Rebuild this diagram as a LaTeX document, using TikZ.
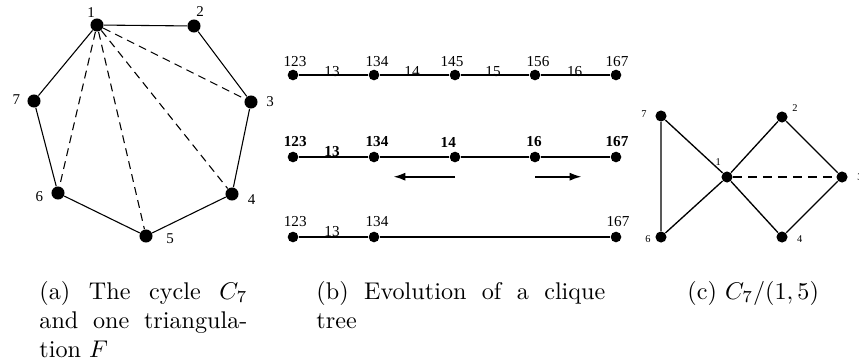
\documentclass[tikz,border=0pt]{standalone}
\usepackage{fontspec}
\newfontfamily\timesf{Liberation Serif}
\usetikzlibrary{arrows.meta}
\begin{document}
\begin{tikzpicture}[x=0.414pt,y=-0.414pt,
  dotA/.style={circle,fill=black,inner sep=0pt,minimum size=5.4pt},
  dotB/.style={circle,fill=black,inner sep=0pt,minimum size=4.4pt},
  dotC/.style={circle,fill=black,inner sep=0pt,minimum size=4.6pt},
  labA/.style={inner sep=0pt,font=\timesf\fontsize{6.2pt}{7pt}\selectfont},
  labB/.style={inner sep=0pt,font=\timesf\fontsize{6.3pt}{7pt}\selectfont},
  labBb/.style={inner sep=0pt,font=\timesf\bfseries\fontsize{6.3pt}{7pt}\selectfont},
  labC/.style={inner sep=0pt,font=\timesf\fontsize{4.3pt}{5pt}\selectfont},
  edgeA/.style={line width=0.45pt},
  diagA/.style={line width=0.45pt,dash pattern=on 3.3pt off 2.2pt},
  edgeB/.style={line width=0.7pt},
  edgeBb/.style={line width=1.1pt},
  arrowB/.style={line width=0.85pt,-{Latex[length=5pt,width=3.4pt]}},
  edgeC/.style={line width=0.55pt},
  diagC/.style={line width=1.1pt,dash pattern=on 3.6pt off 2.6pt},
  capt/.style={inner sep=0pt,anchor=base west,font=\fontsize{10pt}{12pt}\selectfont}
]
\useasboundingbox (0,0) rectangle (859,362);

% ---------- (a) ----------
\node[dotA] (a1) at (97,25) {};
\node[dotA] (a2) at (194,26) {};
\node[dotA] (a3) at (251,102) {};
\node[dotA] (a4) at (232,194) {};
\node[dotA] (a5) at (146,236) {};
\node[dotA] (a6) at (58,193) {};
\node[dotA] (a7) at (34,101) {};
\node[labA] (la1) at (91,13) {1};
\node[labA] (la2) at (200,11.7) {2};
\node[labA] (la3) at (270,102) {3};
\node[labA] (la4) at (251.7,199.5) {4};
\node[labA] (la5) at (170,239) {5};
\node[labA] (la6) at (39.3,197) {6};
\node[labA] (la7) at (16.3,99.5) {7};
\draw[edgeA] (a1) -- (a2) -- (a3) -- (a4) -- (a5) -- (a6) -- (a7) -- (a1);
\draw[diagA] (a1) -- (a3);
\draw[diagA] (a1) -- (a4);
\draw[diagA] (a1) -- (a5);
\draw[diagA] (a1) -- (a6);

% ---------- (b) row 1 ----------
\node[dotB] (p1) at (293,75) {};
\node[dotB] (p2) at (374,75) {};
\node[dotB] (p3) at (455,75) {};
\node[dotB] (p4) at (535,75) {};
\node[dotB] (p5) at (616,75) {};
\draw[edgeB] (p1) -- (p2) -- (p3) -- (p4) -- (p5);
\node[labB] (lp1) at (295,62) {123};
\node[labB] (lp2) at (377,62) {134};
\node[labB] (lp3) at (452,62) {145};
\node[labB] (lp4) at (538,62) {156};
\node[labB] (lp5) at (617,62) {167};
\node[labB,anchor=base] (ep1) at (332,76) {13};
\node[labB,anchor=base] (ep2) at (412,76) {14};
\node[labB,anchor=base] (ep3) at (493,76) {15};
\node[labB,anchor=base] (ep4) at (574.7,76) {16};

% ---------- (b) row 2 ----------
\node[dotB] (q1) at (293,157) {};
\node[dotB] (q2) at (374,157) {};
\node[dotB] (q3) at (455,157) {};
\node[dotB] (q4) at (535,157) {};
\node[dotB] (q5) at (616,157) {};
\draw[edgeBb] (q1) -- (q2) -- (q3) -- (q4) -- (q5);
\node[labBb] (lq1) at (295.3,142) {123};
\node[labBb] (lq2) at (377,142) {134};
\node[labBb] (lq3) at (448.3,142) {14};
\node[labBb] (lq4) at (534,142) {16};
\node[labBb] (lq5) at (617,142) {167};
\node[labBb,anchor=base] (eq1) at (332,156.7) {13};
\coordinate (la0) at (455,176.7);
\coordinate (la9) at (393.3,176.7);
\coordinate (ra0) at (535,176.7);
\coordinate (ra9) at (581.7,176.7);
\draw[arrowB] (la0) -- (la9);
\draw[arrowB] (ra0) -- (ra9);

% ---------- (b) row 3 ----------
\node[dotB] (r1) at (293,237) {};
\node[dotB] (r2) at (374,237) {};
\node[dotB] (r3) at (616,237) {};
\draw[edgeB] (r1) -- (r2) -- (r3);
\node[labB] (lr1) at (295.3,222) {123};
\node[labB] (lr2) at (377,222) {134};
\node[labB] (lr3) at (618,222) {167};
\node[labB,anchor=base] (er1) at (332,236.7) {13};

% ---------- (c) ----------
\node[dotC] (c7) at (661,116) {};
\node[dotC] (c6) at (661,237) {};
\node[dotC] (c1) at (727,177) {};
\node[dotC] (c2) at (782,117) {};
\node[dotC] (c3) at (842,177) {};
\node[dotC] (c4) at (782,237) {};
\draw[edgeC] (c7) -- (c6) -- (c1) -- (c7);
\draw[edgeC] (c1) -- (c2) -- (c3) -- (c4) -- (c1);
\draw[diagC] (c1) -- (c3);
\node[labC] (lc7) at (644,113.7) {7};
\node[labC] (lc6) at (648,239) {6};
\node[labC] (lc1) at (718.3,162) {1};
\node[labC] (lc2) at (795,108) {2};
\node[labC] (lc3) at (860,177) {3};
\node[labC] (lc4) at (799.7,239) {4};

% ---------- captions ----------
\node[capt] (capa1) at (39,299) {\makebox[86.1pt][s]{(a) The cycle $C_7$}};
\node[capt] (capa2) at (39,328) {\makebox[86.1pt][s]{and one triangula-}};
\node[capt] (capa3) at (39,357) {tion $F$};
\node[capt] (capb1) at (316,299) {\makebox[119.6pt][s]{(b) Evolution of a clique}};
\node[capt] (capb2) at (316,328) {tree};
\node[capt] (capc1) at (687,299) {(c) $C_7/(1,5)$};
\end{tikzpicture}
\end{document}
